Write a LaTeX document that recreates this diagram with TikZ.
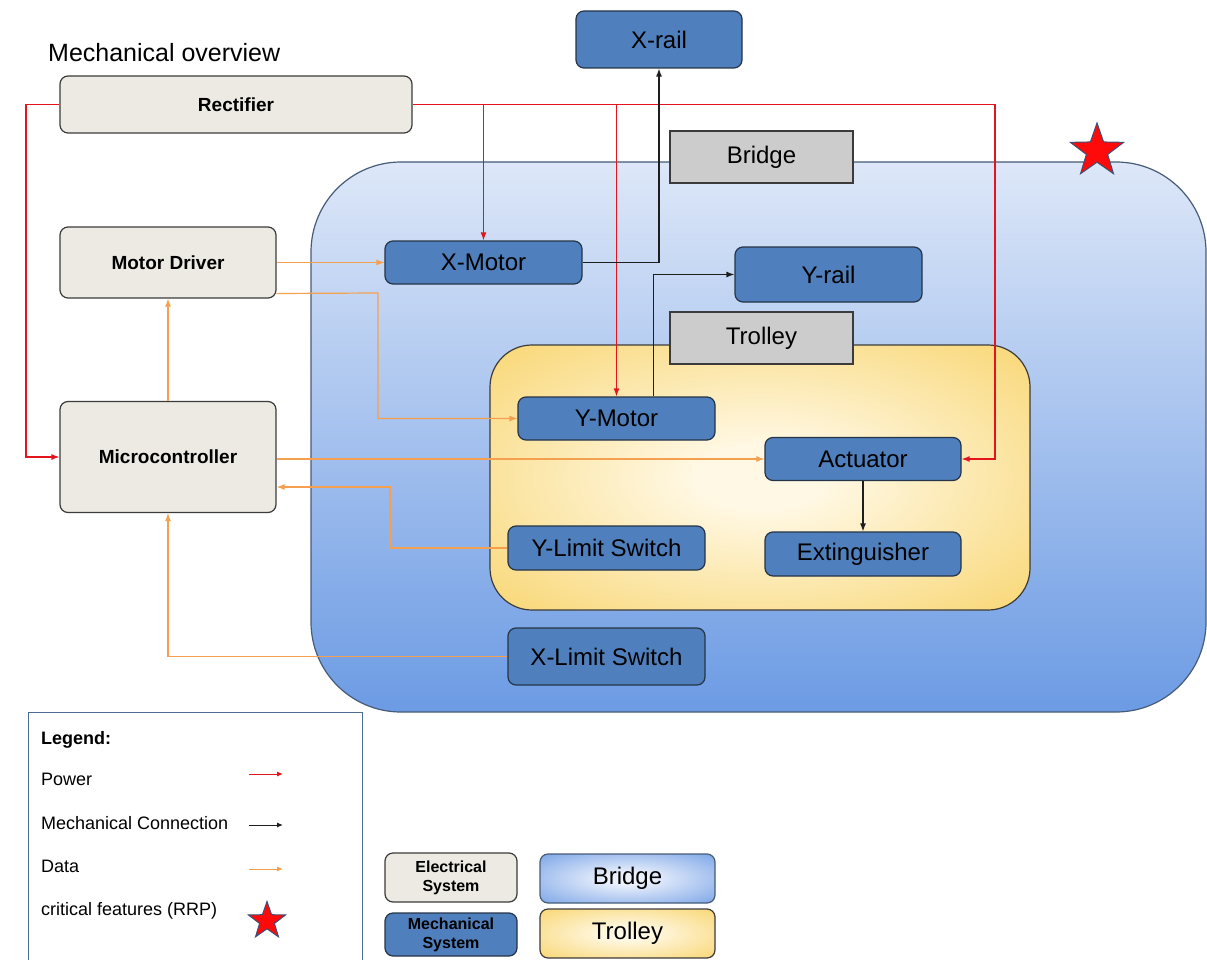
\documentclass[tikz,border=0pt]{standalone}
\usepackage{fontspec}
\setmainfont{Liberation Sans}
\usetikzlibrary{arrows.meta,shapes.geometric}

\definecolor{MOEdge}{HTML}{3B3B3B}
\definecolor{MOElec}{HTML}{ECEAE2}
\definecolor{MOMech}{HTML}{4F7FBC}
\definecolor{MOMechEdge}{HTML}{263447}
\definecolor{MOTag}{HTML}{CCCCCC}
\definecolor{MOBridgeTop}{HTML}{DDE7F8}
\definecolor{MOBridgeBot}{HTML}{6C9BE4}
\definecolor{MOBridgeEdge}{HTML}{465C78}
\definecolor{MOBridgeIn}{HTML}{EAF0FC}
\definecolor{MOTrolleyIn}{HTML}{FFF8E4}
\definecolor{MOTrolleyOut}{HTML}{F8D264}
\definecolor{MOPower}{HTML}{E3141C}
\definecolor{MOLine}{HTML}{1E1E1E}
\definecolor{MOData}{HTML}{F5A04F}
\definecolor{MOStar}{HTML}{FF0A0A}
\definecolor{MOStarEdge}{HTML}{3D4F73}
\definecolor{MOKeyEdge}{HTML}{4C6C92}

\pgfdeclareradialshading[MOTrolleyIn,MOTrolleyOut]{trolleyglow}{\pgfpoint{0bp}{0bp}}{%
  color(0bp)=(MOTrolleyIn); color(6bp)=(MOTrolleyIn); color(40bp)=(MOTrolleyOut); color(50bp)=(MOTrolleyOut)}
\pgfdeclareradialshading[MOBridgeIn,MOBridgeBot]{bridgeglow}{\pgfpoint{0bp}{0bp}}{%
  color(0bp)=(MOBridgeIn); color(6bp)=(MOBridgeIn); color(40bp)=(MOBridgeBot); color(50bp)=(MOBridgeBot)}

\begin{document}
\begin{tikzpicture}[x=1pt, y=-1pt]

  % ---- page ----
  \useasboundingbox (0,0) rectangle (1207,960);

  % ---- styles ----
  \tikzset{
    mobox/.style={draw=MOEdge, line width=1.2pt, rounded corners=8pt, inner sep=0pt, align=center},
    elecbox/.style={mobox, fill=MOElec, font=\fontsize{19}{23}\selectfont\bfseries},
    mechbox/.style={mobox, draw=MOMechEdge, fill=MOMech, font=\fontsize{24}{28}\selectfont},
    tagbox/.style={draw=MOEdge, line width=1.2pt, fill=MOTag, inner sep=0pt, font=\fontsize{24}{28}\selectfont},
    wire/.style={line width=1.2pt, -{Latex[length=8pt, width=6pt]}},
    powerwire/.style={wire, draw=MOPower},
    mechwire/.style={wire, draw=MOLine},
    datawire/.style={wire, draw=MOData},
    keywire/.style={line width=1pt, -{Latex[length=6pt, width=5pt]}},
    keytext/.style={anchor=base west, inner sep=0pt, font=\fontsize{18}{21}\selectfont},
    critstar/.style={star, star points=5, star point ratio=2.5, fill=MOStar, draw=MOStarEdge, line width=1pt, inner sep=0pt},
  }

  % ---- regions ----
  \draw[draw=MOBridgeEdge, line width=1.2pt, top color=MOBridgeTop, bottom color=MOBridgeBot, rounded corners=90pt]
    (311,162) rectangle (1206,712);
  \shadedraw[draw=MOEdge, line width=1.2pt, shading=trolleyglow, rounded corners=42pt]
    (490,345) rectangle (1030,610);
  \node[critstar, minimum size=56pt] (crit) at (1097,151) {};

  % ---- title ----
  \node[anchor=base west, inner sep=0pt, font=\fontsize{25}{30}\selectfont] (title) at (48,62) {Mechanical overview};

  % ---- electrical system ----
  \node[elecbox, minimum width=352pt, minimum height=57pt] (rect) at (236,104.5) {Rectifier};
  \node[elecbox, minimum width=216pt, minimum height=71pt] (mdrv) at (168,262.5) {Motor Driver};
  \node[elecbox, minimum width=216pt, minimum height=111pt] (mcu) at (168,457) {Microcontroller};

  % ---- mechanical system ----
  \node[mechbox, minimum width=166pt, minimum height=57pt] (xrail) at (659,39.5) {X-rail};
  \node[mechbox, minimum width=197pt, minimum height=43pt] (xmot) at (483.5,262.5) {X-Motor};
  \node[mechbox, minimum width=187pt, minimum height=55pt] (yrail) at (828.5,274.5) {Y-rail};
  \node[mechbox, minimum width=197pt, minimum height=43pt] (ymot) at (616.5,418.5) {Y-Motor};
  \node[mechbox, minimum width=196pt, minimum height=43pt] (act) at (863,459) {Actuator};
  \node[mechbox, minimum width=197pt, minimum height=44pt] (ylim) at (606.5,548) {Y-Limit Switch};
  \node[mechbox, minimum width=196pt, minimum height=44pt] (ext) at (863,554) {Extinguisher};
  \node[mechbox, minimum width=197pt, minimum height=57pt] (xlim) at (606.5,656.5) {X-Limit Switch};

  % ---- region tags ----
  \node[tagbox, minimum width=183pt, minimum height=52pt] (bridgetag) at (761.5,157) {Bridge};
  \node[tagbox, minimum width=183pt, minimum height=52pt] (trolleytag) at (761.5,338) {Trolley};

  % ---- power ----
  \coordinate (pwrL) at (26,104.5);
  \coordinate (pwrR) at (995,104.5);
  \draw[powerwire] (rect.west) -- (pwrL) |- (mcu.west);
  \draw[powerwire] (rect.east) -- (pwrR) |- (act.east);
  \draw[powerwire] (xmot.north |- rect.east) -- (xmot.north);
  \draw[powerwire] (ymot.north |- rect.east) -- (ymot.north);

  % ---- mechanical ----
  \draw[mechwire] (xmot.east) -| (xrail.south);
  \draw[mechwire] ([xshift=37pt]ymot.north) |- (yrail.west);
  \draw[mechwire] (act.south) -- (ext.north);

  % ---- data ----
  \coordinate (ymotbend) at (378,293);
  \coordinate (ylimbend) at (390,548);
  \draw[datawire] (mdrv.east |- xmot.west) -- (xmot.west);
  \draw[datawire] ([yshift=-31pt]mdrv.east) -- (ymotbend) |- (ymot.west);
  \draw[datawire] (mcu.north) -- (mdrv.south);
  \draw[datawire] (mcu.east |- act.west) -- (act.west);
  \draw[datawire] (ylim.west) -- (ylimbend) |- ([yshift=-30pt]mcu.east);
  \draw[datawire] (xlim.west) -| (mcu.south);

  % ---- legend ----
  \draw[draw=MOKeyEdge, line width=1pt] (28,962) -- (28,712) -- (362,712) -- (362,962);
  \node[keytext, font=\fontsize{18}{21}\selectfont\bfseries] (keyhead) at (41,744) {Legend:};
  \node[keytext] (keypower) at (41,785) {Power};
  \node[keytext] (keymech) at (41,829) {Mechanical Connection};
  \node[keytext] (keydata) at (41,872) {Data};
  \node[keytext] (keycrit) at (41,915) {critical features (RRP)};

  \coordinate (pwrA) at (249,774);  \coordinate (pwrB) at (283,774);
  \coordinate (mechA) at (249,825); \coordinate (mechB) at (283,825);
  \coordinate (dataA) at (249,869); \coordinate (dataB) at (283,869);
  \draw[keywire, draw=MOPower] (pwrA) -- (pwrB);
  \draw[keywire, draw=MOLine] (mechA) -- (mechB);
  \draw[keywire, draw=MOData] (dataA) -- (dataB);
  \node[critstar, minimum size=39pt] (keystar) at (267,921) {};

  % ---- key boxes ----
  \node[elecbox, minimum width=132pt, minimum height=49pt, font=\fontsize{16}{19}\selectfont\bfseries] (keyelec) at (451,877.5) {Electrical\\System};
  \node[mechbox, minimum width=132pt, minimum height=43pt, font=\fontsize{16}{19}\selectfont\bfseries] (keymechsys) at (451,934.5) {Mechanical\\System};
  \node[mobox, shade, shading=bridgeglow, draw=MOBridgeEdge, minimum width=175pt, minimum height=49pt, font=\fontsize{24}{28}\selectfont] (keybridge) at (627.5,878.5) {Bridge};
  \node[mobox, shade, shading=trolleyglow, minimum width=175pt, minimum height=49pt, font=\fontsize{24}{28}\selectfont] (keytrolley) at (627.5,933.5) {Trolley};

\end{tikzpicture}
\end{document}
